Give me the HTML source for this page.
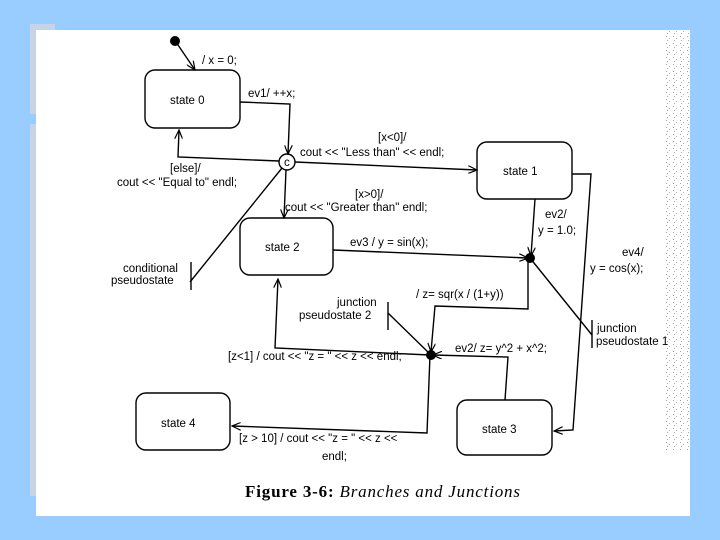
<!DOCTYPE html>
<html><head><style>
html,body{margin:0;padding:0;background:#99ccff;width:720px;height:540px;overflow:hidden}
svg{position:absolute;left:0;top:0}
text{font-family:"Liberation Sans",sans-serif;font-size:11.5px;fill:#000}
</style></head><body>
<svg width="720" height="540" viewBox="0 0 720 540">
<defs>
<marker id="a" markerWidth="10" markerHeight="8" refX="9" refY="4" orient="auto" markerUnits="userSpaceOnUse">
<path d="M0,0 L9,4 L0,8" fill="none" stroke="#000" stroke-width="1.2"/></marker>
<pattern id="n" width="7" height="7" patternUnits="userSpaceOnUse">
<rect x="1" y="1" width="1" height="1" fill="#444"/><rect x="4" y="3" width="1" height="1" fill="#666"/><rect x="2" y="5" width="1" height="1" fill="#555"/></pattern>
</defs>
<rect x="30" y="24" width="25" height="90" fill="#c8d4e4"/>
<rect x="30" y="124" width="25" height="372" fill="#c8d4e4"/>
<rect x="36" y="30" width="654" height="486" fill="#fff"/>
<rect x="665" y="30" width="25" height="420" fill="url(#n)" opacity="0.5"/>
<g fill="none" stroke="#000" stroke-width="1.4">
<rect x="145" y="70" width="95" height="58" rx="10"/>
<rect x="477" y="142" width="95" height="57" rx="10"/>
<rect x="240" y="218" width="93" height="57" rx="10"/>
<rect x="136" y="393" width="94" height="57" rx="10"/>
<rect x="457" y="400" width="95" height="55" rx="10"/>
<circle cx="287" cy="162" r="8" fill="#fff"/>
<line x1="176" y1="42" x2="195" y2="70" marker-end="url(#a)"/>
<polyline points="240,102 290,104 288,154" marker-end="url(#a)"/>
<polyline points="279,161 178,157 179,130" marker-end="url(#a)"/>
<line x1="295" y1="162" x2="477" y2="170" marker-end="url(#a)"/>
<line x1="286" y1="170" x2="284" y2="218" marker-end="url(#a)"/>
<line x1="282" y1="168" x2="190" y2="282"/>
<line x1="191" y1="262" x2="191" y2="290"/>
<line x1="333" y1="250" x2="528" y2="258" marker-end="url(#a)"/>
<line x1="535" y1="199" x2="531" y2="256" marker-end="url(#a)"/>
<polyline points="572,174 591,174 573,430 554,431" marker-end="url(#a)"/>
<line x1="530" y1="258" x2="592" y2="335"/>
<line x1="592" y1="320" x2="592" y2="348"/>
<polyline points="528,260 528,309 435,306 431,352" marker-end="url(#a)"/>
<line x1="388" y1="302" x2="388" y2="330"/>
<line x1="388" y1="313" x2="430" y2="354"/>
<polyline points="505,400 508,357 433,355" marker-end="url(#a)"/>
<polyline points="430,355 275,348 278,279" marker-end="url(#a)"/>
<polyline points="430,355 427,433 232,426" marker-end="url(#a)"/>
</g>
<circle cx="175" cy="41" r="5" fill="#000"/>
<circle cx="530" cy="258" r="5" fill="#000"/>
<circle cx="431" cy="355" r="5" fill="#000"/>
<text x="284" y="166" font-size="9">c</text>
<text x="170" y="104">state 0</text>
<text x="503" y="175">state 1</text>
<text x="265" y="251">state 2</text>
<text x="161" y="427">state 4</text>
<text x="482" y="433">state 3</text>
<text x="202" y="64">/ x = 0;</text>
<text x="248" y="97">ev1/ ++x;</text>
<text x="378" y="141">[x&lt;0]/</text>
<text x="300" y="156">cout &lt;&lt; "Less than" &lt;&lt; endl;</text>
<text x="170" y="172">[else]/</text>
<text x="117" y="186">cout &lt;&lt; "Equal to" endl;</text>
<text x="355" y="198">[x&gt;0]/</text>
<text x="285" y="211">cout &lt;&lt; "Greater than" endl;</text>
<text x="545" y="218">ev2/</text>
<text x="538" y="234">y = 1.0;</text>
<text x="350" y="246">ev3 / y = sin(x);</text>
<text x="622" y="256">ev4/</text>
<text x="590" y="272">y = cos(x);</text>
<text x="123" y="272">conditional</text>
<text x="111" y="284">pseudostate</text>
<text x="416" y="298">/ z= sqr(x / (1+y))</text>
<text x="337" y="306">junction</text>
<text x="299" y="319">pseudostate 2</text>
<text x="597" y="332">junction</text>
<text x="596" y="345">pseudostate 1</text>
<text x="455" y="352">ev2/ z= y^2 + x^2;</text>
<text x="228" y="360">[z&lt;1] / cout &lt;&lt; "z = " &lt;&lt; z &lt;&lt; endl;</text>
<text x="239" y="442">[z &gt; 10] / cout &lt;&lt; "z = " &lt;&lt; z &lt;&lt;</text>
<text x="322" y="460">endl;</text>
<text x="245" y="497" textLength="275" lengthAdjust="spacing" style="font-family:'Liberation Serif',serif;font-size:17px;font-weight:bold">Figure 3-6: <tspan font-weight="normal" font-style="italic">Branches and Junctions</tspan></text>
</svg>
</body></html>
